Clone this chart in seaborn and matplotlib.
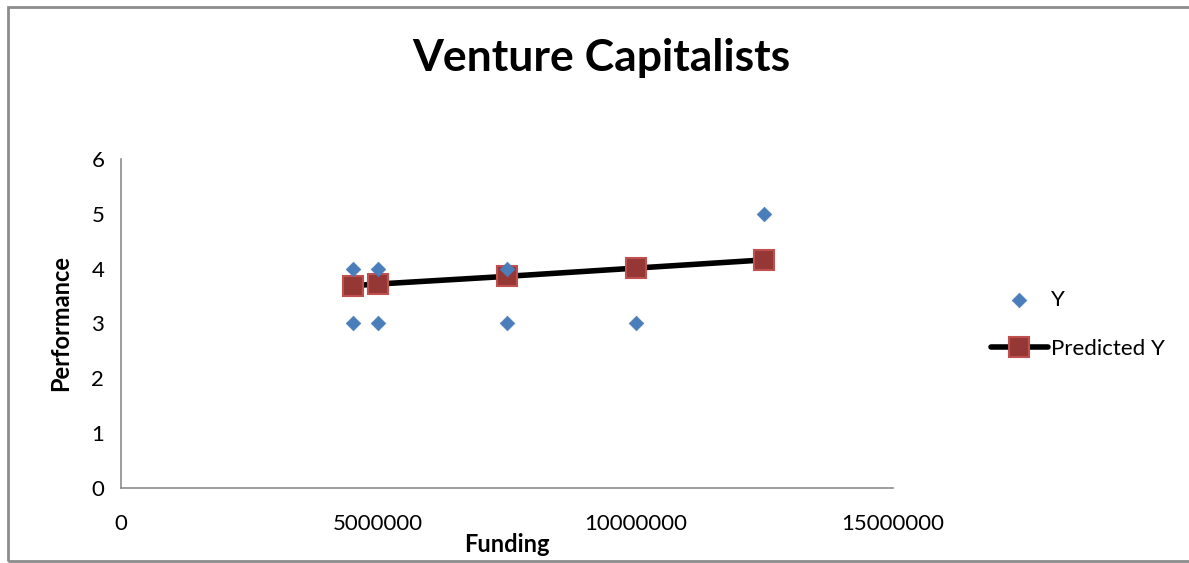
import matplotlib
matplotlib.use("Agg")
import matplotlib.pyplot as plt
import seaborn as sns
import pandas as pd
from matplotlib.patches import Rectangle

# Observed performance by funding amount
funding = [4500000, 4500000, 5000000, 5000000, 7500000, 7500000, 10000000, 12500000]
performance = [4, 3, 4, 3, 4, 3, 3, 5]

# Fitted regression values
pred_funding = [4500000, 5000000, 7500000, 10000000, 12500000]
pred_performance = [3.69, 3.72, 3.86, 4.01, 4.16]

x_ticks = [0, 5000000, 10000000, 15000000]
y_ticks = [0, 1, 2, 3, 4, 5, 6]

sns.set_theme(style="white")
plt.rcParams["font.family"] = ["Lato", "DejaVu Sans"]
plt.rcParams["text.color"] = "black"

obs = pd.DataFrame({"Funding": funding, "Performance": performance})
pred = pd.DataFrame({"Funding": pred_funding, "Performance": pred_performance})

fig = plt.figure(figsize=(11.89, 5.63), dpi=100)
ax = fig.add_axes([0.1018, 0.1332, 0.6492, 0.5844])

sns.scatterplot(data=obs, x="Funding", y="Performance", ax=ax, marker="D",
                s=55, color="#4a7ebb", edgecolor="#4a7ebb", linewidth=0.5,
                label="Y", zorder=3)
sns.lineplot(data=pred, x="Funding", y="Performance", ax=ax, color="black",
             linewidth=4, marker="s", markersize=15, markerfacecolor="#953735",
             markeredgecolor="#c0504d", markeredgewidth=1.5, label="Predicted Y",
             zorder=2)

ax.set_xlim(0, 15000000)
ax.set_ylim(0, 6)
ax.set_xticks(x_ticks)
ax.set_xticklabels([str(v) for v in x_ticks])
ax.set_yticks(y_ticks)
ax.set_yticklabels([str(v) for v in y_ticks])

for side in ["top", "right"]:
    ax.spines[side].set_visible(False)
for side in ["left", "bottom"]:
    ax.spines[side].set_color("#8c8c8c")
    ax.spines[side].set_linewidth(1.2)
ax.tick_params(axis="both", which="both", direction="out", length=6, width=1.2,
               color="#8c8c8c", labelsize=16, labelcolor="black")
ax.tick_params(axis="x", pad=13)
ax.tick_params(axis="y", pad=6)

ax.set_xlabel("Funding", fontsize=17, fontweight="bold", labelpad=-1, color="black")
ax.set_ylabel("Performance", fontsize=17, fontweight="bold", labelpad=14, color="black")

fig.text(0.506, 0.897, "Venture Capitalists", ha="center", va="center",
         fontsize=32, fontweight="bold", color="black")

leg = ax.legend(loc="center left", bbox_to_anchor=(1.115, 0.497), frameon=False,
                fontsize=16, handlelength=2.6, handletextpad=0.1,
                labelspacing=1.3, borderaxespad=0)
for t in leg.get_texts():
    t.set_color("black")

# Chart frame
fig.patches.append(Rectangle((0.0065, 0.003), 1.2, 0.985, transform=fig.transFigure,
                             fill=False, edgecolor="#8c8c8c", linewidth=2))

fig.savefig("out.png", dpi=100)
